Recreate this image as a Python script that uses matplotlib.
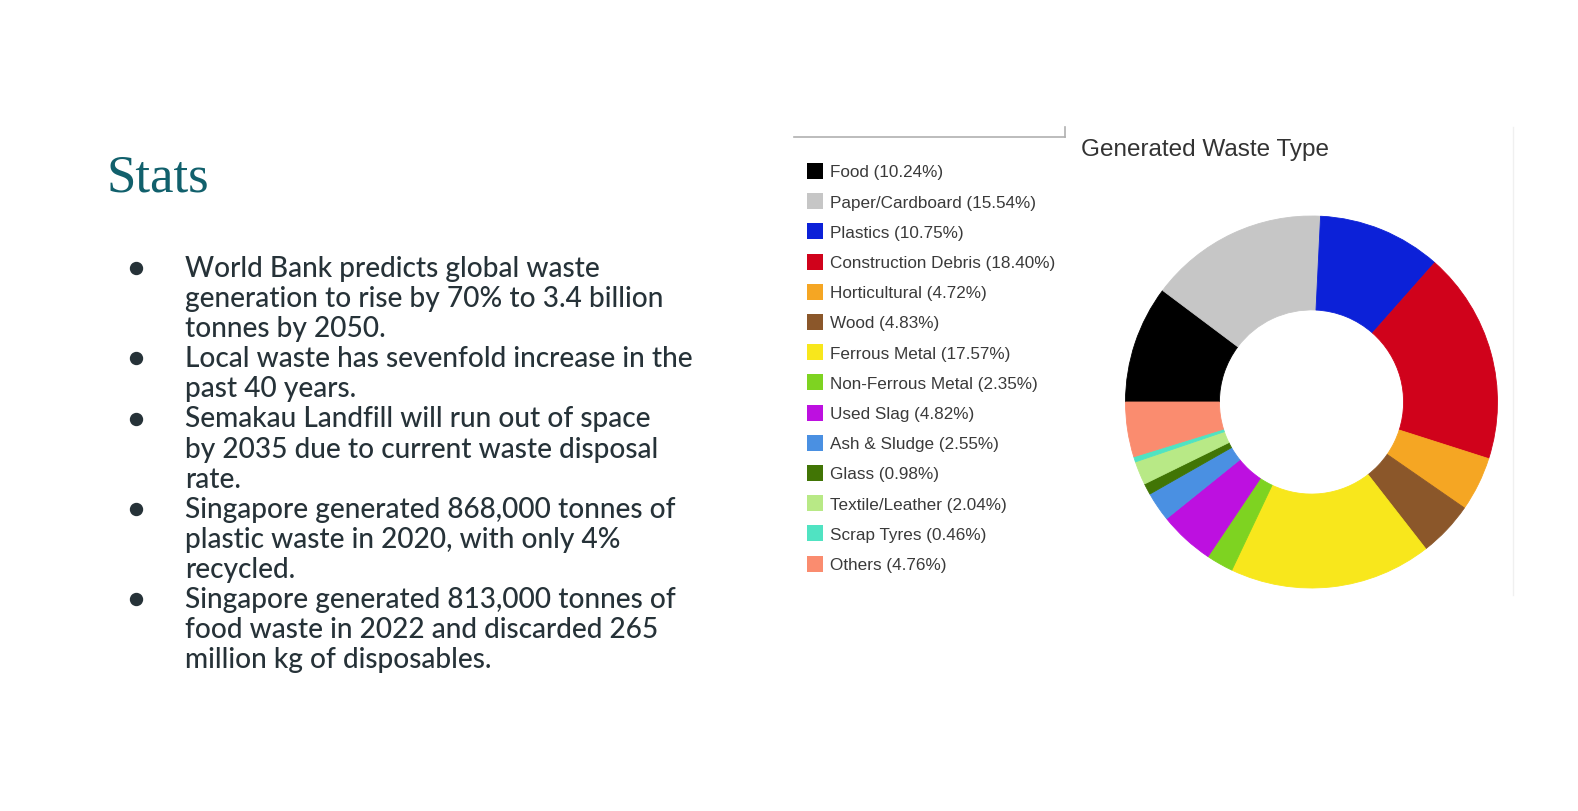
import matplotlib
matplotlib.use("Agg")
import matplotlib.pyplot as plt

# ---------------- data ----------------
categories = ["Food", "Paper/Cardboard", "Plastics", "Construction Debris",
              "Horticultural", "Wood", "Ferrous Metal", "Non-Ferrous Metal",
              "Used Slag", "Ash & Sludge", "Glass", "Textile/Leather",
              "Scrap Tyres", "Others"]
percentages = [10.24, 15.54, 10.75, 18.40, 4.72, 4.83, 17.57, 2.35,
               4.82, 2.55, 0.98, 2.04, 0.46, 4.76]
colors = ["#000000", "#c6c6c6", "#0c21d8", "#d0021b", "#f5a623", "#8b572a",
          "#f8e71c", "#7ed321", "#bd10e0", "#4a90e2", "#417505", "#b8e986",
          "#50e3c2", "#fa8c6f"]
chart_title = "Generated Waste Type"
heading = "Stats"
bullets = [
    ["World Bank predicts global waste",
     "generation to rise by 70% to 3.4 billion",
     "tonnes by 2050."],
    ["Local waste has sevenfold increase in the",
     "past 40 years."],
    ["Semakau Landfill will run out of space",
     "by 2035 due to current waste disposal",
     "rate."],
    ["Singapore generated 868,000 tonnes of",
     "plastic waste in 2020, with only 4%",
     "recycled."],
    ["Singapore generated 813,000 tonnes of",
     "food waste in 2022 and discarded 265",
     "million kg of disposables."],
]

W, H = 1578, 812
fig = plt.figure(figsize=(W / 100, H / 100), dpi=100)
fig.patch.set_facecolor("white")

bg = fig.add_axes([0, 0, 1, 1])
bg.set_xlim(0, W)
bg.set_ylim(H, 0)
bg.axis("off")

renderer = fig.canvas.get_renderer()


def fit(txt, target_px):
    size = txt.get_fontsize()
    w = txt.get_window_extent(renderer).width
    if w > 0:
        txt.set_fontsize(size * target_px / w)


# ---------------- left side: heading + bullets ----------------
t = bg.text(107, 192, heading, family="Liberation Serif", fontsize=30,
            color="#11606c", va="baseline", ha="left")
fit(t, 103)

body_font = "Lato"
probe = bg.text(0, 0, "Local waste has sevenfold increase in the",
                family=body_font, fontsize=16, weight="medium")
fit(probe, 508)
body_size = probe.get_fontsize()
probe.remove()

line_i = 0
for group in bullets:
    base0 = 277 + 30.1 * line_i
    bg.plot([136], [base0 - 8], marker="o", markersize=8.6,
            color="#263238", linestyle="none")
    for line in group:
        base = 277 + 30.1 * line_i
        bg.text(185, base, line, family=body_font, fontsize=body_size,
                weight="medium", color="#263238", va="baseline", ha="left")
        line_i += 1

# ---------------- chart decorations ----------------
bg.plot([794, 1065], [138, 138], color="#b0b0b0", lw=1.2)
bg.plot([1065, 1065], [128, 138], color="#b0b0b0", lw=1.2)
bg.plot([1513, 1513], [128, 596], color="#f0f0f0", lw=1.0)

tt = bg.text(1081, 156, chart_title, family="Liberation Sans", fontsize=16,
             color="#333333", va="baseline", ha="left")
fit(tt, 249)

# legend
probe = bg.text(0, 0, "Construction Debris (18.40%)", family="Liberation Sans",
                fontsize=11)
fit(probe, 224)
leg_size = probe.get_fontsize()
probe.remove()

for i, (cat, val, col) in enumerate(zip(categories, percentages, colors)):
    yc = 172 + 30.2 * i
    bg.add_patch(plt.Rectangle((807, yc - 8), 16, 16, facecolor=col,
                               edgecolor="none"))
    bg.text(830, yc + 5.5, f"{cat} ({val:.2f}%)", family="Liberation Sans",
            fontsize=leg_size, color="#3a3a3a", va="baseline", ha="left")

# ---------------- donut ----------------
cx, cy, R = 1311.5, 403, 186
ax = fig.add_axes([(cx - R) / W, (H - cy - R) / H, 2 * R / W, 2 * R / H])
wedges, _ = ax.pie(percentages, colors=colors, startangle=180,
                   counterclock=False, radius=1,
                   wedgeprops=dict(width=0.505, linewidth=0.6))
for w_, col in zip(wedges, colors):
    w_.set_edgecolor(col)
ax.set_xlim(-1, 1)
ax.set_ylim(-1, 1)
ax.set_aspect("equal")
ax.axis("off")

fig.savefig("out.png", dpi=100, facecolor="white")
